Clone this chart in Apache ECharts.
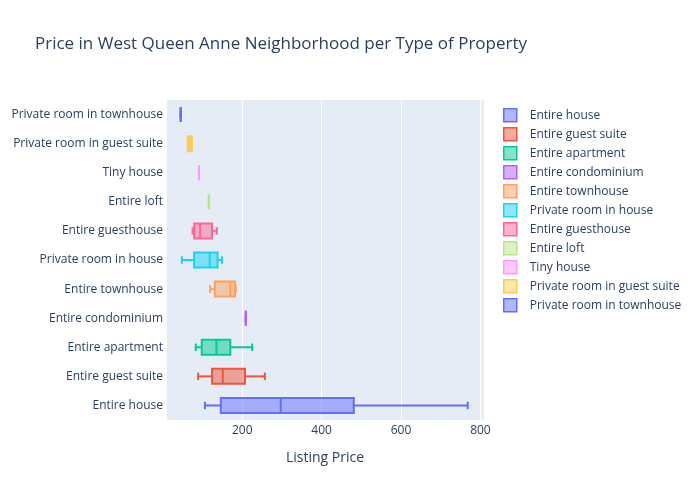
<!DOCTYPE html>
<html><head><meta charset="utf-8">
<script src="https://cdn.jsdelivr.net/npm/echarts@6/dist/echarts.min.js"></script>
<style>html,body{margin:0;padding:0;background:#fff}#c{width:700px;height:500px}</style>
</head><body><div id="c"></div><script>
const categories = ["Entire house","Entire guest suite","Entire apartment","Entire condominium","Entire townhouse","Private room in house","Entire guesthouse","Entire loft","Tiny house","Private room in guest suite","Private room in townhouse"];
const mins    = [106, 89,  83, 209, 119,  48,  75, 116, 91, 63, 45];
const q1s     = [146, 124, 98, 209, 131,  79,  79, 116, 91, 63, 45];
const medians = [297, 151, 135, 209, 170, 118,  94, 116, 91, 68, 45];
const q3s     = [481, 207, 170, 209, 182, 138, 124, 116, 91, 73, 45];
const maxs    = [768, 257, 225, 209, 184, 149, 136, 116, 91, 73, 45];
const colors = ["#636efa","#EF553B","#00cc96","#ab63fa","#FFA15A","#19d3f3","#FF6692","#B6E880","#FF97FF","#FECB52","#636efa"];
const xTicks = [200, 400, 600, 800];

function rgba(hex, a){const n=parseInt(hex.slice(1),16);return `rgba(${(n>>16)&255},${(n>>8)&255},${n&255},${a})`;}
const font = '"Open Sans", "Noto Sans", sans-serif';
const txt = '#2a3f5f';
const BOX_H = 15;

function makeRender(color){
  return function(params, api){
    const cat = api.value(0);
    const pMin = api.coord([api.value(1), cat]);
    const pQ1 = api.coord([api.value(2), cat]);
    const pMed = api.coord([api.value(3), cat]);
    const pQ3 = api.coord([api.value(4), cat]);
    const pMax = api.coord([api.value(5), cat]);
    const cy = pMed[1];
    const h = BOX_H, hc = BOX_H/2;
    const ls = {stroke: color, lineWidth: 2, fill: null};
    return {type: 'group', children: [
      {type: 'line', shape: {x1: pMin[0], y1: cy, x2: pQ1[0], y2: cy}, style: ls},
      {type: 'line', shape: {x1: pQ3[0], y1: cy, x2: pMax[0], y2: cy}, style: ls},
      {type: 'line', shape: {x1: pMin[0], y1: cy-hc/2, x2: pMin[0], y2: cy+hc/2}, style: ls},
      {type: 'line', shape: {x1: pMax[0], y1: cy-hc/2, x2: pMax[0], y2: cy+hc/2}, style: ls},
      {type: 'rect', shape: {x: pQ1[0], y: cy-h/2, width: pQ3[0]-pQ1[0], height: h},
        style: {fill: rgba(color,0.5), stroke: color, lineWidth: 2}},
      {type: 'line', shape: {x1: pMed[0], y1: cy-h/2, x2: pMed[0], y2: cy+h/2}, style: ls}
    ]};
  };
}

const series = categories.map((c,i)=>({
  name: c,
  type: 'custom',
  renderItem: makeRender(colors[i]),
  encode: {y: 0, x: [1,2,3,4,5]},
  data: [[i, mins[i], q1s[i], medians[i], q3s[i], maxs[i]]],
  itemStyle: {color: rgba(colors[i],0.5), borderColor: colors[i], borderWidth: 1.5},
  emphasis: {disabled: true}
}));
const chart = echarts.init(document.getElementById('c'));
chart.setOption({
  animation: false,
  backgroundColor: '#fff',
  title: {text: 'Price in West Queen Anne Neighborhood per Type of Property', left: 30, top: 31,
    textStyle: {fontFamily: font, fontSize: 17, fontWeight: 'normal', color: txt}},
  legend: {orient: 'vertical', left: 498, top: 103, itemWidth: 13, itemHeight: 13, itemGap: 4.5, icon: 'rect',
    data: categories.map((c,i)=>({name: c, itemStyle: {color: rgba(colors[i],0.5), borderColor: colors[i], borderWidth: 1.5}})),
    textStyle: {fontFamily: font, fontSize: 12, color: txt, padding: [0,0,0,8]}},
  grid: {left: 166, top: 100, width: 318, height: 320, show: true, backgroundColor: '#E5ECF6', borderWidth: 0, containLabel: false},
  xAxis: {type: 'value', min: 8, max: 809,
    splitNumber: 4,
    name: 'Listing Price', nameLocation: 'middle', nameGap: 31,
    nameTextStyle: {fontFamily: font, fontSize: 14, color: txt},
    axisLine: {show: false}, axisTick: {show: false},
    splitLine: {show: true, lineStyle: {color: '#fff', width: 1}},
    axisLabel: {fontFamily: font, fontSize: 12, color: txt, margin: 5, showMinLabel: false, showMaxLabel: false,
      formatter: v => xTicks.includes(v) ? String(v) : ''}},
  yAxis: {type: 'category', data: categories,
    axisLine: {show: false}, axisTick: {show: false}, splitLine: {show: false},
    axisLabel: {fontFamily: font, fontSize: 12, color: txt, margin: 3}},
  series: series
});
</script></body></html>
